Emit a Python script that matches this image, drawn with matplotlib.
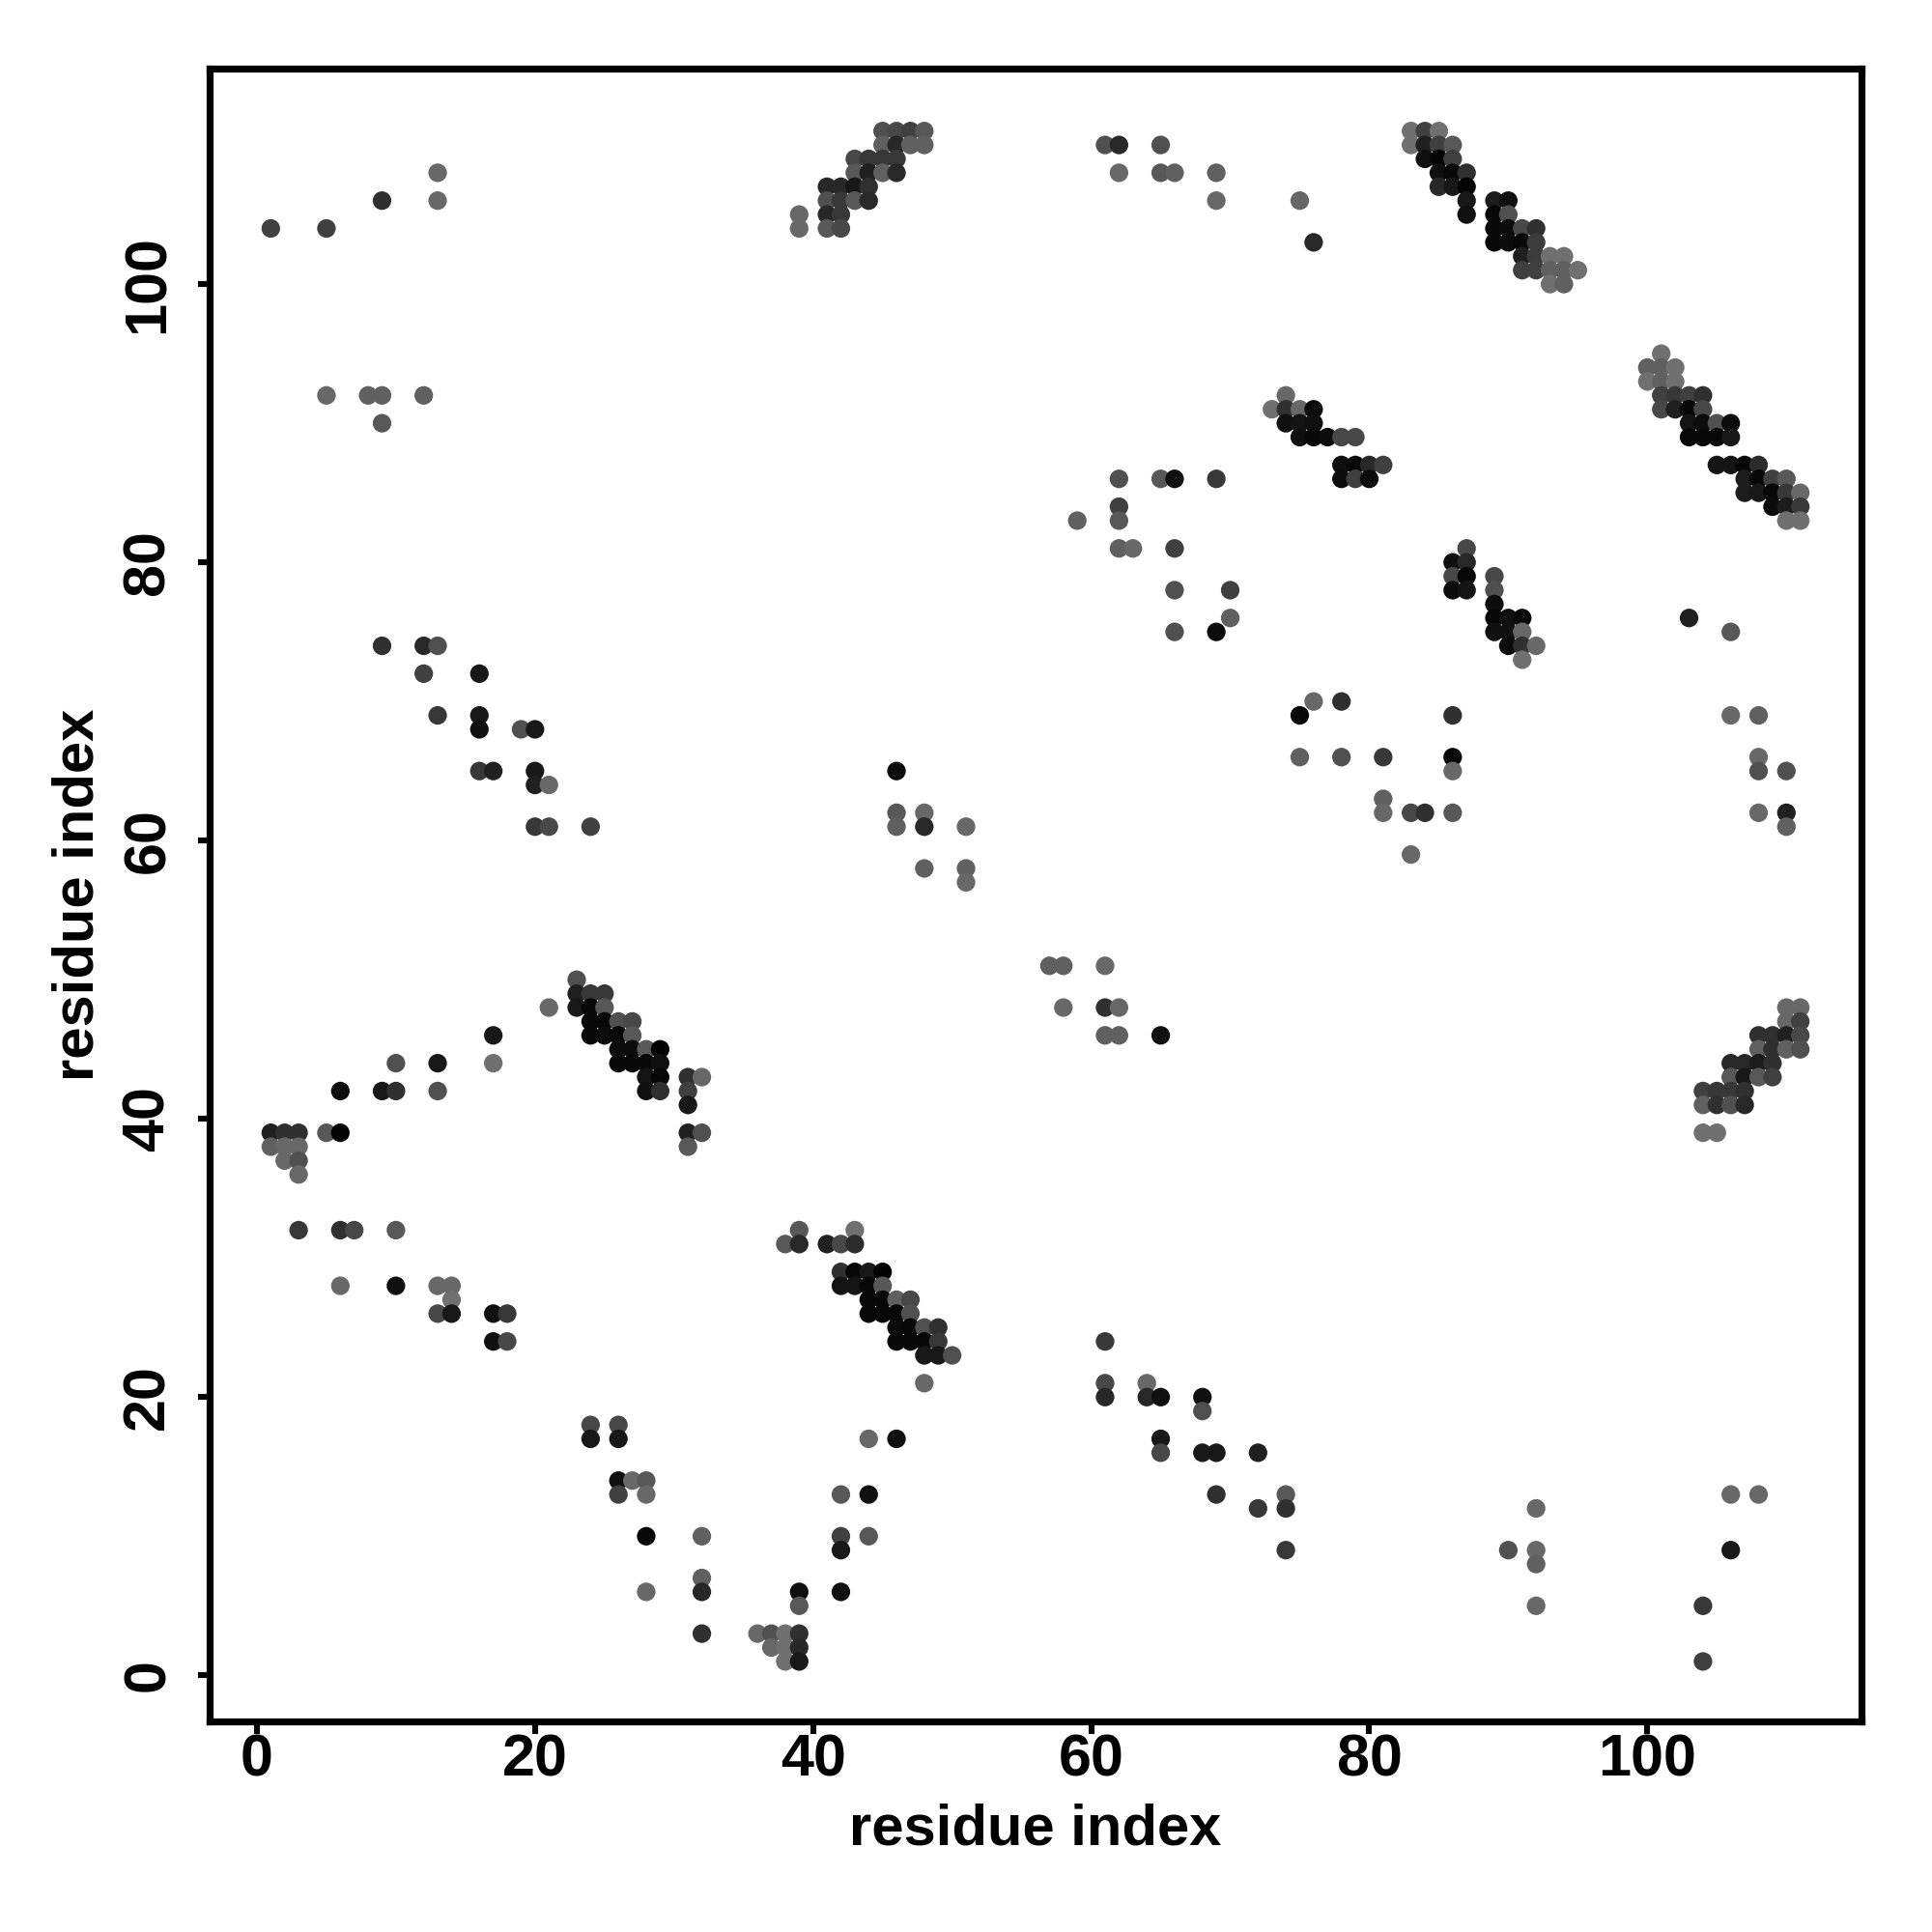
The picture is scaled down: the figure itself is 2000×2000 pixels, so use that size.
"""Residue contact map drawn as grey dots."""

import matplotlib

matplotlib.use("Agg")
import matplotlib.pyplot as plt

# residue pairs, grouped by row inside each cluster
contact_x = [
    83, 84, 85, 83, 84, 85, 86, 84, 85, 86, 85, 86, 87, 85, 86, 87,
    87, 89, 90, 87, 89, 90, 89, 90, 91, 92, 89, 90, 91, 92,
    91, 92, 93, 94, 91, 92, 93, 94, 95, 93, 94, 75, 76,
    101, 100, 101, 102, 100, 101, 102, 101, 102, 103, 104, 101, 102, 103, 104,
    103, 104, 105, 106, 103, 104, 105, 106,
    105, 106, 107, 108, 107, 108, 109, 110, 107, 108, 109, 110, 111,
    109, 110, 111, 110, 111,
    45, 46, 47, 48, 45, 46, 47, 48, 43, 44, 45, 46, 43, 44, 45, 46,
    41, 42, 43, 44, 41, 42, 43, 44, 39, 41, 42, 39, 41, 42,
    74, 73, 74, 75, 76, 74, 75, 76, 75, 76, 77, 78, 79, 78, 79, 80, 81, 78, 79, 80,
    87, 86, 87, 86, 87, 86, 87,
    89, 89, 89, 89, 89, 90, 90, 90, 91, 91, 91, 91, 92,
    23, 23, 24, 25, 21, 23, 24, 25, 24, 25, 26, 27, 24, 25, 26, 27,
    26, 27, 28, 29, 26, 27, 28, 29, 28, 29, 31, 32, 28, 29, 31, 31, 31, 32, 31,
    39, 43, 38, 39, 41, 42, 43, 42, 43, 44, 45, 42, 43, 44, 45,
    44, 45, 46, 47, 44, 45, 46, 47, 46, 47, 48, 49, 46, 47, 48, 49,
    48, 49, 50, 48,
    110, 111, 110, 111, 108, 109, 110, 111, 108, 109, 110, 111,
    106, 107, 108, 109, 106, 107, 108, 109, 104, 105, 106, 107, 104, 105, 106, 107,
    104, 105,
    1, 2, 3, 5, 6, 1, 2, 3, 2, 3, 3,
    39, 39, 36, 37, 38, 39, 37, 38, 39, 38, 39,
    1, 5, 9, 13, 13, 5, 8, 9, 12, 9,
    61, 62, 65, 62, 65, 66, 69, 69,
    59, 62, 62, 62, 62, 63, 65, 66, 69, 66, 66, 70, 70, 66, 69,
    103, 106, 75, 76, 78, 86, 106, 108,
    75, 78, 81, 86, 86, 108, 108, 110,
    81, 81, 83, 84, 86, 108, 110, 110, 83,
    9, 12, 13, 12, 16, 13, 16, 16, 19, 20, 16, 17, 20, 20, 21, 20, 21, 24,
    46, 46, 48, 46, 48, 51, 48, 51, 51,
    57, 58, 61, 58, 61, 62, 61, 62, 65,
    17, 17, 10, 13, 6, 9, 10, 13,
    3, 6, 7, 10, 6, 10, 13, 14, 14, 13, 14, 17, 18, 17, 18,
    24, 26, 24, 26, 26, 27, 28, 26, 28, 28, 28, 32, 32, 32, 32,
    42, 44, 42, 44, 42, 44, 46, 42,
    61, 61, 61, 64, 64, 65, 68, 68, 65, 65, 68, 69, 72, 69, 74, 72, 74, 74,
    90, 92, 92, 92, 92, 106, 108, 106, 104, 104,
]
contact_y = [
    111, 111, 111, 110, 110, 110, 110, 109, 109, 109, 108, 108, 108, 107, 107, 107,
    106, 106, 106, 105, 105, 105, 104, 104, 104, 104, 103, 103, 103, 103,
    102, 102, 102, 102, 101, 101, 101, 101, 101, 100, 100, 106, 103,
    95, 94, 94, 94, 93, 93, 93, 92, 92, 92, 92, 91, 91, 91, 91,
    90, 90, 90, 90, 89, 89, 89, 89,
    87, 87, 87, 87, 86, 86, 86, 86, 85, 85, 85, 85, 85,
    84, 84, 84, 83, 83,
    111, 111, 111, 111, 110, 110, 110, 110, 109, 109, 109, 109, 108, 108, 108, 108,
    107, 107, 107, 107, 106, 106, 106, 106, 105, 105, 105, 104, 104, 104,
    92, 91, 91, 91, 91, 90, 90, 90, 89, 89, 89, 89, 89, 87, 87, 87, 87, 86, 86, 86,
    81, 80, 80, 79, 79, 78, 78,
    79, 78, 77, 76, 75, 76, 75, 74, 76, 75, 74, 73, 74,
    50, 49, 49, 49, 48, 48, 48, 48, 47, 47, 47, 47, 46, 46, 46, 46,
    45, 45, 45, 45, 44, 44, 44, 44, 43, 43, 43, 43, 42, 42, 42, 41, 39, 39, 38,
    32, 32, 31, 31, 31, 31, 31, 29, 29, 29, 29, 28, 28, 28, 28,
    27, 27, 27, 27, 26, 26, 26, 26, 25, 25, 25, 25, 24, 24, 24, 24,
    23, 23, 23, 21,
    48, 48, 47, 47, 46, 46, 46, 46, 45, 45, 45, 45,
    44, 44, 44, 44, 43, 43, 43, 43, 42, 42, 42, 42, 41, 41, 41, 41,
    39, 39,
    39, 39, 39, 39, 39, 38, 38, 38, 37, 37, 36,
    6, 5, 3, 3, 3, 3, 2, 2, 2, 1, 1,
    104, 104, 106, 108, 106, 92, 92, 92, 92, 90,
    110, 110, 110, 108, 108, 108, 108, 106,
    83, 86, 84, 83, 81, 81, 86, 86, 86, 81, 78, 78, 76, 75, 75,
    76, 75, 69, 70, 70, 69, 69, 69,
    66, 66, 66, 66, 65, 66, 65, 65,
    63, 62, 62, 62, 62, 62, 62, 61, 59,
    74, 74, 74, 72, 72, 69, 69, 68, 68, 68, 65, 65, 65, 64, 64, 61, 61, 61,
    65, 62, 62, 61, 61, 61, 58, 58, 57,
    51, 51, 51, 48, 48, 48, 46, 46, 46,
    46, 44, 44, 44, 42, 42, 42, 42,
    32, 32, 32, 32, 28, 28, 28, 28, 27, 26, 26, 26, 26, 24, 24,
    18, 18, 17, 17, 14, 14, 14, 13, 13, 10, 6, 10, 7, 6, 3,
    13, 13, 10, 10, 9, 17, 17, 6,
    24, 21, 20, 21, 20, 20, 20, 19, 17, 16, 16, 16, 16, 13, 13, 12, 12, 9,
    9, 12, 9, 8, 5, 13, 13, 9, 5, 1,
]
# dot darkness as a grey level, 0 is black
contact_grey = [
    0x70, 0x40, 0x70, 0x70, 0x20, 0x40, 0x58, 0x10, 0x05, 0x40, 0x10, 0x08, 0x30, 0x28, 0x18, 0x05,
    0x18, 0x1c, 0x10, 0x10, 0x08, 0x50, 0x08, 0x0c, 0x48, 0x30, 0x08, 0x0c, 0x08, 0x3c,
    0x20, 0x3c, 0x70, 0x70, 0x40, 0x40, 0x60, 0x60, 0x70, 0x70, 0x60, 0x66, 0x28,
    0x70, 0x60, 0x60, 0x70, 0x70, 0x60, 0x70, 0x40, 0x38, 0x40, 0x30, 0x48, 0x20, 0x08, 0x48,
    0x14, 0x0c, 0x50, 0x0c, 0x08, 0x08, 0x08, 0x18,
    0x14, 0x14, 0x08, 0x2c, 0x1c, 0x08, 0x40, 0x58, 0x1c, 0x18, 0x08, 0x38, 0x68,
    0x0c, 0x1c, 0x38, 0x70, 0x70,
    0x50, 0x48, 0x40, 0x58, 0x60, 0x28, 0x60, 0x60, 0x48, 0x38, 0x38, 0x38, 0x58, 0x20, 0x60, 0x28,
    0x28, 0x28, 0x18, 0x30, 0x50, 0x38, 0x58, 0x28, 0x68, 0x28, 0x38, 0x68, 0x58, 0x48,
    0x68, 0x70, 0x30, 0x68, 0x0c, 0x10, 0x14, 0x10, 0x10, 0x08, 0x0c, 0x48, 0x48, 0x10, 0x08, 0x28, 0x40, 0x0c, 0x40, 0x0c,
    0x48, 0x10, 0x28, 0x48, 0x08, 0x0c, 0x14,
    0x48, 0x50, 0x0c, 0x08, 0x10, 0x10, 0x10, 0x0c, 0x0a, 0x68, 0x30, 0x70, 0x68,
    0x50, 0x20, 0x38, 0x38, 0x68, 0x18, 0x08, 0x58, 0x08, 0x08, 0x50, 0x48, 0x08, 0x0c, 0x08, 0x58,
    0x0c, 0x0c, 0x58, 0x03, 0x08, 0x08, 0x08, 0x10, 0x14, 0x08, 0x30, 0x68, 0x10, 0x30, 0x40, 0x18, 0x20, 0x50, 0x58,
    0x58, 0x70, 0x58, 0x28, 0x20, 0x48, 0x2c, 0x30, 0x08, 0x18, 0x03, 0x14, 0x14, 0x08, 0x58,
    0x08, 0x08, 0x60, 0x48, 0x08, 0x08, 0x08, 0x50, 0x0c, 0x08, 0x50, 0x30, 0x08, 0x08, 0x08, 0x38,
    0x18, 0x18, 0x50, 0x68,
    0x68, 0x68, 0x68, 0x40, 0x30, 0x30, 0x20, 0x48, 0x60, 0x30, 0x60, 0x50,
    0x28, 0x28, 0x1c, 0x30, 0x58, 0x18, 0x58, 0x40, 0x40, 0x38, 0x38, 0x30, 0x60, 0x30, 0x50, 0x28,
    0x70, 0x70,
    0x20, 0x30, 0x30, 0x58, 0x04, 0x60, 0x68, 0x68, 0x68, 0x50, 0x68,
    0x10, 0x58, 0x68, 0x50, 0x70, 0x30, 0x68, 0x70, 0x28, 0x70, 0x18,
    0x40, 0x40, 0x30, 0x68, 0x68, 0x68, 0x60, 0x60, 0x60, 0x58,
    0x50, 0x28, 0x50, 0x68, 0x58, 0x60, 0x60, 0x68,
    0x60, 0x50, 0x40, 0x58, 0x60, 0x68, 0x58, 0x10, 0x38, 0x40, 0x50, 0x40, 0x60, 0x50, 0x0c,
    0x20, 0x58, 0x08, 0x68, 0x30, 0x30, 0x68, 0x60,
    0x60, 0x50, 0x38, 0x08, 0x68, 0x68, 0x50, 0x50,
    0x60, 0x68, 0x48, 0x30, 0x58, 0x68, 0x20, 0x60, 0x68,
    0x30, 0x28, 0x50, 0x40, 0x18, 0x38, 0x18, 0x10, 0x50, 0x18, 0x38, 0x20, 0x18, 0x20, 0x68, 0x38, 0x48, 0x40,
    0x0c, 0x58, 0x68, 0x60, 0x28, 0x68, 0x60, 0x60, 0x68,
    0x60, 0x60, 0x68, 0x68, 0x30, 0x68, 0x60, 0x60, 0x10,
    0x18, 0x70, 0x50, 0x18, 0x0c, 0x18, 0x30, 0x50,
    0x38, 0x30, 0x48, 0x58, 0x68, 0x10, 0x68, 0x68, 0x70, 0x48, 0x18, 0x10, 0x38, 0x10, 0x48,
    0x48, 0x48, 0x18, 0x18, 0x10, 0x68, 0x58, 0x40, 0x68, 0x08, 0x68, 0x60, 0x60, 0x28, 0x30,
    0x58, 0x10, 0x40, 0x58, 0x18, 0x68, 0x10, 0x10,
    0x38, 0x48, 0x28, 0x68, 0x28, 0x10, 0x10, 0x50, 0x18, 0x48, 0x18, 0x18, 0x20, 0x30, 0x58, 0x38, 0x30, 0x38,
    0x50, 0x68, 0x68, 0x60, 0x68, 0x68, 0x68, 0x18, 0x38, 0x40,
]

x_ticks = [0, 20, 40, 60, 80, 100]
y_ticks = [0, 20, 40, 60, 80, 100]

plt.rcParams["font.family"] = ["Liberation Sans", "DejaVu Sans"]
plt.rcParams["font.weight"] = "bold"

assert len(contact_x) == len(contact_y) == len(contact_grey)

fig = plt.figure(figsize=(10, 10), dpi=200, facecolor="white")
ax = fig.add_axes([217 / 2000, 1 - 1782 / 2000, 1710 / 2000, 1711 / 2000])
colors = [(g / 255, g / 255, g / 255) for g in contact_grey]
ax.scatter(contact_x, contact_y, s=48, c=colors, linewidths=0, zorder=3)
ax.set_xlim(-3.4, 115.4)
ax.set_ylim(-3.31, 115.49)

ax.set_xticks(x_ticks)
ax.set_yticks(y_ticks)
ax.tick_params(axis="both", length=4.5, width=2.2, labelsize=22)
ax.tick_params(axis="x", pad=0)
ax.tick_params(axis="y", pad=7.8)
for label in ax.get_yticklabels():
    label.set_rotation(90)
    label.set_va("center")
for side in ax.spines.values():
    side.set_linewidth(2.6)

ax.set_xlabel("residue index", fontsize=21.5, fontweight="bold", labelpad=5.5)
ax.set_ylabel("residue index", fontsize=21.5, fontweight="bold", labelpad=6.2)

fig.savefig("out.png", dpi=200, facecolor="white")
